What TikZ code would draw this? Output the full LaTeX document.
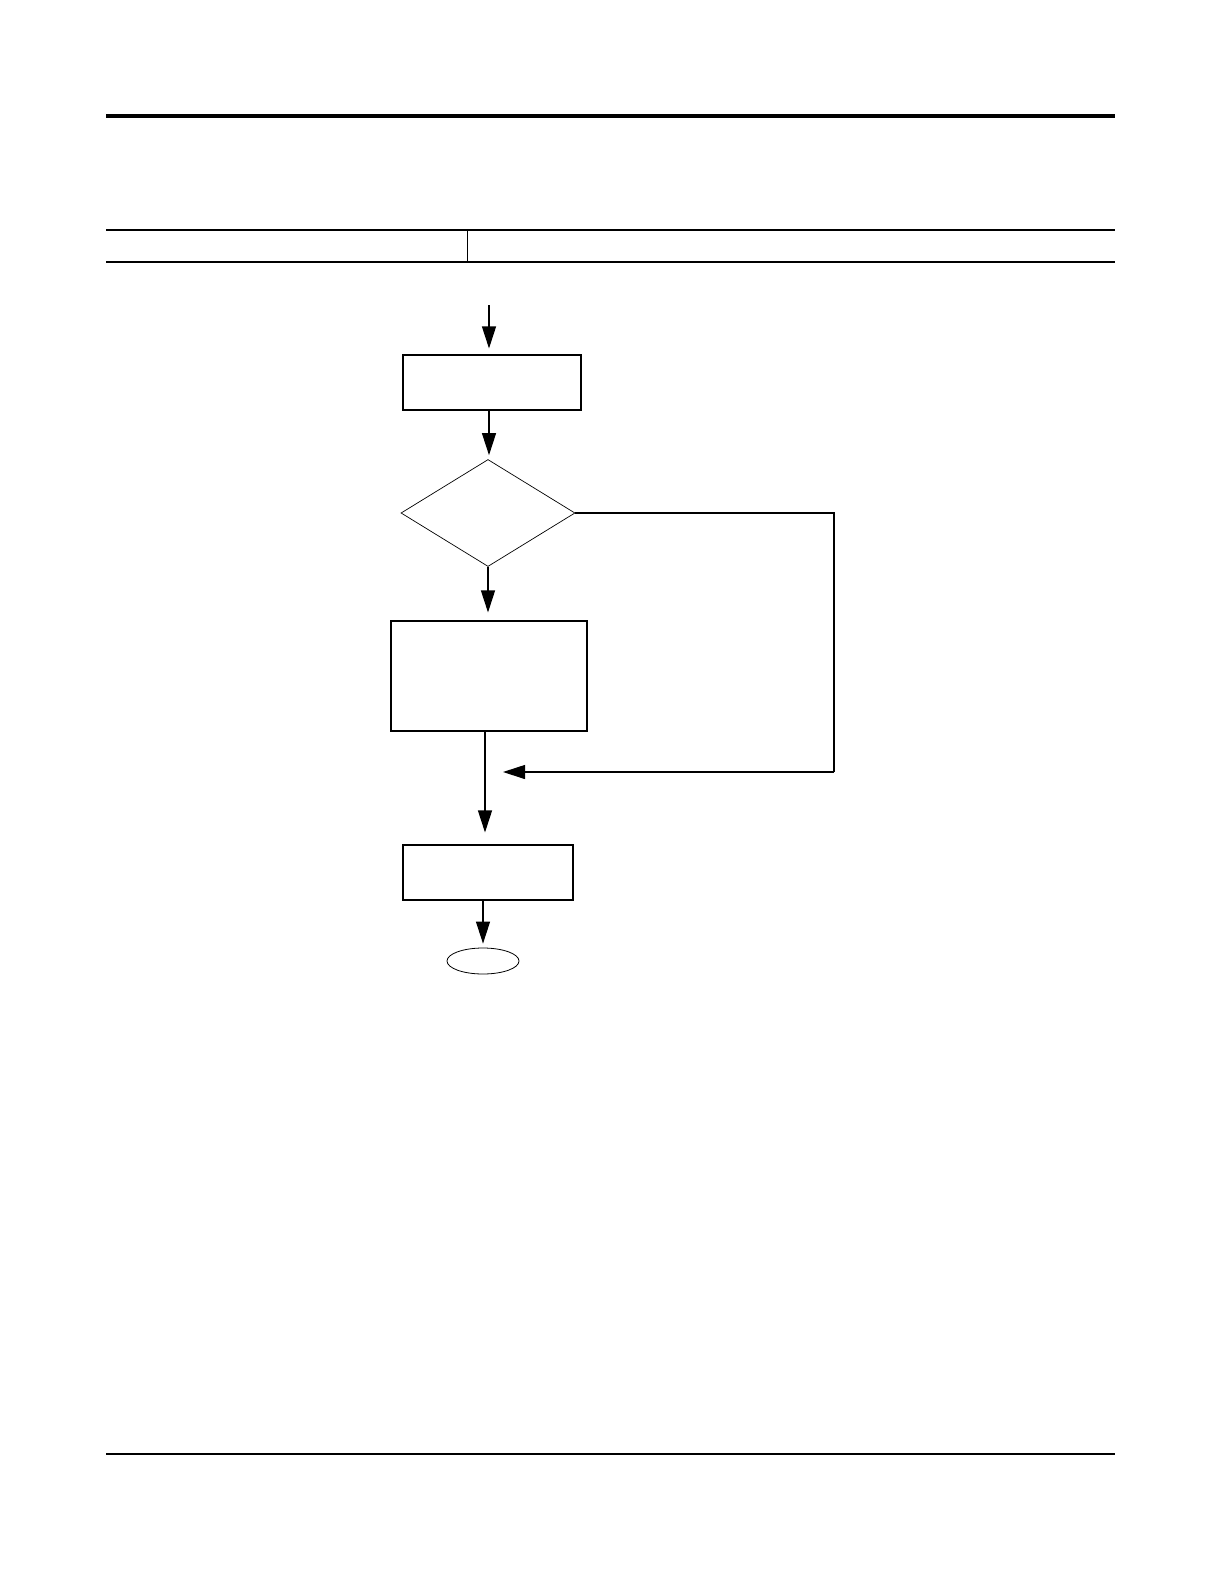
\documentclass[tikz,border=0pt]{standalone}
\usetikzlibrary{arrows.meta,shapes.geometric}
\begin{document}
\begin{tikzpicture}[x=1pt,y=-1pt,
  boxn/.style={draw,line width=1.1pt,inner sep=0pt,minimum width=#1},
  arr/.style={line width=1.1pt,-{Triangle[length=22pt,width=14pt]}},
  conn/.style={line width=1.1pt}]
\useasboundingbox (0,0) rectangle (1224,1584);
% page rules
\draw[line width=4pt] (106,116) -- (1115,116);
\draw[line width=2.6pt] (106,230) -- (1115,230);
\draw[line width=1pt] (467,230) -- (467,262);
\draw[line width=1.5pt] (106,262) -- (1115,262);
\draw[line width=1.5pt] (106,1454) -- (1115,1454);
% nodes
\coordinate (start) at (489,305);
\node[boxn=178pt,minimum height=55pt] (b1) at (492,382.5) {};
\node[diamond,draw,line width=0.7pt,inner sep=0pt,minimum width=174pt,minimum height=107pt,aspect=1.626] (d) at (488,513) {};
\node[boxn=196pt,minimum height=110pt] (b2) at (489,676) {};
\node[boxn=170pt,minimum height=55pt] (b3) at (488,872.5) {};
\node[ellipse,draw,line width=0.8pt,inner sep=0pt,minimum width=72pt,minimum height=26pt] (e) at (483,961) {};
\coordinate (c2) at (834,772);
\coordinate (c3) at (503,772);
% connectors
\draw[arr,shorten >=6pt] (start) -- (start |- b1.north);
\draw[arr,shorten >=4pt] (b1.south -| start) -- (start |- d.north);
\draw[conn] (d.east) -| (c2);
\draw[arr] (c2) -- (c3);
\draw[arr,shorten >=8pt] (d.south) -- (d.south |- b2.north);
\draw[arr,shorten >=12pt] ([xshift=-4pt]b2.south) -- ([xshift=-4pt]b2.south |- b3.north);
\draw[arr,shorten >=4pt] ([xshift=-5pt]b3.south) -- (e.north);
\end{tikzpicture}
\end{document}
